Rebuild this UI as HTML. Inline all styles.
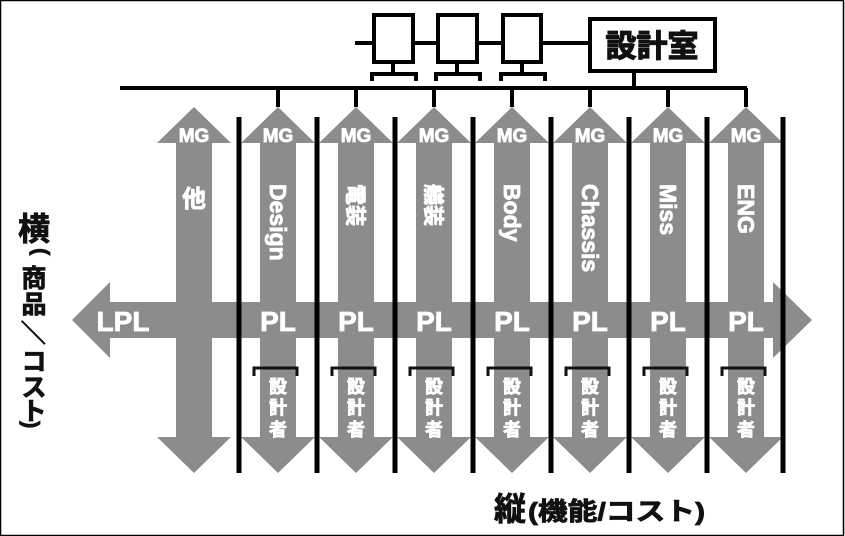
<!DOCTYPE html>
<html><head><meta charset="utf-8"><style>
html,body{margin:0;padding:0;background:#fff}
svg{display:block}
text{font-family:"Liberation Sans","Noto Sans CJK JP",sans-serif;font-weight:bold}
.w{fill:#fff;stroke:#fff;stroke-width:0.8}
.k{fill:#111;stroke:#111;stroke-width:0.8}
</style></head><body>
<svg width="845" height="536" viewBox="0 0 845 536" xmlns="http://www.w3.org/2000/svg">
<rect x="0.5" y="0.5" width="843" height="535" fill="#fff" stroke="#000" stroke-width="1.5"/>
<g fill="#8c8c8c">
<polygon points="72,320 110,282 110,302 773,302 773,282 812,320 773,358 773,338 110,338 110,358"/>
<g id="va">
<polygon points="194,107 231,143 212,143 212,437 231,437 194,473 157,437 176,437 176,143 157,143"/>
</g>
<use href="#va" x="84"/><use href="#va" x="162"/><use href="#va" x="240"/><use href="#va" x="318"/>
<use href="#va" x="396"/><use href="#va" x="474"/><use href="#va" x="552"/>
</g>
<g stroke="#000" stroke-width="5">
<line x1="239" y1="117" x2="239" y2="473"/><line x1="317" y1="117" x2="317" y2="473"/>
<line x1="395" y1="117" x2="395" y2="473"/><line x1="473" y1="117" x2="473" y2="473"/>
<line x1="551" y1="117" x2="551" y2="473"/><line x1="629" y1="117" x2="629" y2="473"/>
<line x1="707" y1="117" x2="707" y2="473"/><line x1="783" y1="117" x2="783" y2="473"/>
</g>
<g stroke="#000" stroke-width="4" fill="none">
<line x1="120" y1="88" x2="747" y2="88"/>
<line x1="278" y1="88" x2="278" y2="107"/><line x1="356" y1="88" x2="356" y2="107"/>
<line x1="434" y1="88" x2="434" y2="107"/><line x1="512" y1="88" x2="512" y2="107"/>
<line x1="590" y1="88" x2="590" y2="107"/><line x1="668" y1="88" x2="668" y2="107"/>
<line x1="746" y1="88" x2="746" y2="107"/>
<line x1="634" y1="73" x2="634" y2="88"/>
<line x1="355" y1="43" x2="590" y2="43"/>
</g>
<g stroke="#000" stroke-width="4" fill="#fff">
<rect x="374" y="15" width="39" height="47"/>
<rect x="438" y="15" width="39" height="47"/>
<rect x="503" y="15" width="38" height="47"/>
</g>
<g stroke="#000" stroke-width="4" fill="none">
<path d="M393,62 V74 M372,81 V74 H416 V81"/>
<path d="M457,62 V74 M436,81 V74 H480 V81"/>
<path d="M522,62 V74 M501,81 V74 H545 V81"/>
<rect x="590" y="19" width="125" height="52" fill="#fff"/>
</g>
<text class="k" x="652" y="57" font-size="31" text-anchor="middle" style="stroke-width:1.2">設計室</text>
<g class="w" font-size="19" text-anchor="middle">
<text x="194" y="142">MG</text><text x="278" y="142">MG</text><text x="356" y="142">MG</text>
<text x="434" y="142">MG</text><text x="512" y="142">MG</text><text x="590" y="142">MG</text>
<text x="668" y="142">MG</text><text x="746" y="142">MG</text>
</g>
<text class="w" x="194" y="207" font-size="24" text-anchor="middle">他</text>
<g class="w" font-size="23">
<text transform="translate(270,184) rotate(90)">Design</text>
<text transform="translate(348,184) rotate(90)" font-size="21">電装</text>
<text transform="translate(426,184) rotate(90)" font-size="21">艤装</text>
<text transform="translate(504,184) rotate(90)">Body</text>
<text transform="translate(582,184) rotate(90)">Chassis</text>
<text transform="translate(660,184) rotate(90)">Miss</text>
<text transform="translate(738,184) rotate(90)">ENG</text>
</g>
<g class="w" font-size="28" text-anchor="middle">
<text x="123" y="331">LPL</text>
<text x="278" y="331">PL</text><text x="356" y="331">PL</text><text x="434" y="331">PL</text>
<text x="512" y="331">PL</text><text x="590" y="331">PL</text><text x="668" y="331">PL</text>
<text x="746" y="331">PL</text>
</g>
<g id="br">
<path d="M254,376 V368 H297 V376" stroke="#111" stroke-width="3" fill="none"/>
<g class="w" font-size="18" text-anchor="middle">
<text x="278" y="393">設</text><text x="278" y="414">計</text><text x="278" y="436">者</text>
</g>
</g>
<use href="#br" x="78"/><use href="#br" x="156"/><use href="#br" x="234"/>
<use href="#br" x="312"/><use href="#br" x="390"/><use href="#br" x="468"/>
<text class="k" x="34" y="240" font-size="32" text-anchor="middle">横</text>
<g class="k" font-size="25" text-anchor="middle">
<text transform="translate(34,248) rotate(90)" text-anchor="start" font-size="22">(</text>
<text x="34" y="287">商</text><text x="34" y="313">品</text>
<text transform="translate(24,320) rotate(90)" text-anchor="start">／</text>
<text x="34" y="370">コ</text><text x="34" y="396">ス</text><text x="34" y="420">ト</text>
<text transform="translate(24,421) rotate(90)" text-anchor="start" font-size="22">)</text>
</g>
<text class="k" x="494" y="520" font-size="32">縦</text>
<text class="k" x="528" y="520" font-size="25" textLength="177" lengthAdjust="spacingAndGlyphs">(機能/コスト)</text>
</svg>
</body></html>
